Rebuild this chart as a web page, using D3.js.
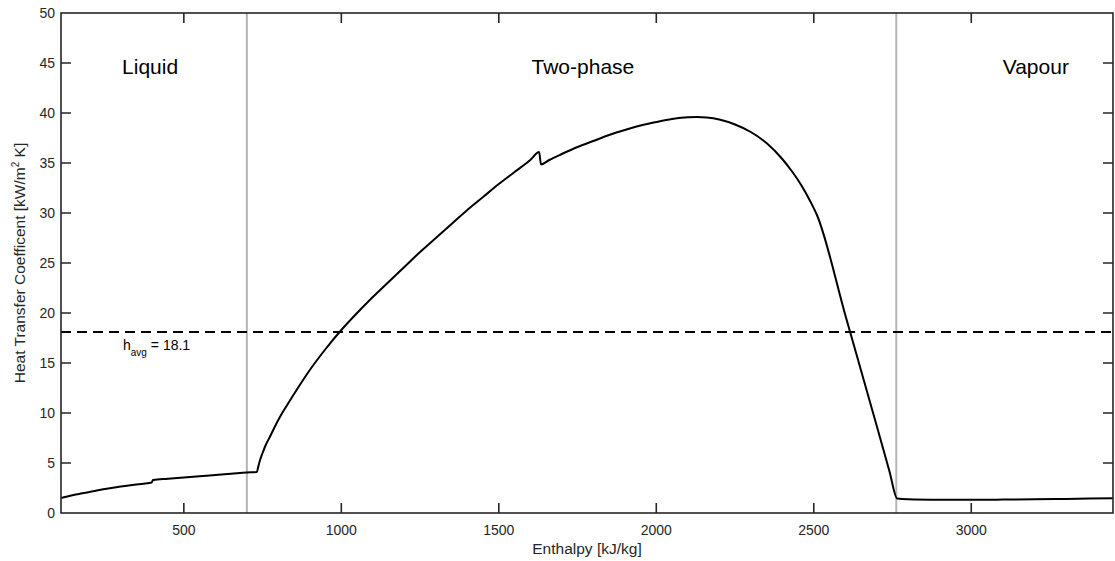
<!DOCTYPE html>
<html>
<head>
<meta charset="utf-8">
<script src="https://cdn.jsdelivr.net/npm/d3@7"></script>
<style>
  html, body { margin: 0; padding: 0; background: #fff; }
  svg { display: block; font-family: "Liberation Sans", Arial, Helvetica, sans-serif; }
</style>
</head>
<body>
<svg id="chart" width="1115" height="561"></svg>
<script>
// ---- data ----
const enthalpy = [110,150,200,250,300,350,398,402,450,500,550,600,650,700,732,736,742,750,760,773,790,805,830,860,900,950,1000,1050,1100,1150,1200,1250,1300,1350,1400,1450,1500,1550,1600,1628,1634,1660,1700,1750,1800,1850,1900,1950,2000,2050,2100,2130,2160,2200,2250,2300,2350,2400,2430,2460,2490,2510,2600,2700,2740,2765,2800,2900,3000,3100,3200,3300,3450];
const htc = [1.5,1.8,2.1,2.4,2.65,2.85,3.05,3.3,3.42,3.55,3.68,3.8,3.92,4.05,4.1,4.6,5.3,6.0,6.8,7.6,8.7,9.6,10.9,12.4,14.3,16.4,18.3,20.0,21.6,23.1,24.6,26.1,27.5,28.9,30.3,31.6,32.9,34.1,35.3,36.1,34.85,35.3,35.9,36.6,37.2,37.8,38.3,38.75,39.1,39.4,39.58,39.6,39.55,39.35,38.85,38.1,37.0,35.4,34.2,32.8,31.1,29.8,19.8,8.7,4.2,1.45,1.38,1.33,1.32,1.34,1.37,1.41,1.47];
const hAvg = 18.1;
const phaseBounds = [700, 2762];
const phaseNames = ["Liquid", "Two-phase", "Vapour"];
const phaseLabelX = [393, 1767, 3205];
const xTicks = [500, 1000, 1500, 2000, 2500, 3000];
const yTicks = [0, 5, 10, 15, 20, 25, 30, 35, 40, 45, 50];
const xDomain = [110, 3450];
const yDomain = [0, 50];

// ---- layout ----
const svg = d3.select("#chart");
const L = 61, R = 1113, T = 13, B = 513;
const x = d3.scaleLinear().domain(xDomain).range([L, R]);
const y = d3.scaleLinear().domain(yDomain).range([B, T]);
const axisColor = "#262626";
const tickLen = 10;
const fontFam = '"Liberation Sans", Arial, sans-serif';

// phase boundaries
svg.selectAll("line.phase").data(phaseBounds).enter().append("line")
  .attr("class", "phase")
  .attr("x1", d => x(d)).attr("x2", d => x(d))
  .attr("y1", T).attr("y2", B)
  .attr("stroke", "#b4b4b4").attr("stroke-width", 2);

// average line
svg.append("line")
  .attr("x1", L).attr("x2", R)
  .attr("y1", y(hAvg)).attr("y2", y(hAvg))
  .attr("stroke", "#000").attr("stroke-width", 2)
  .attr("stroke-dasharray", "10,6");

// curve
const line = d3.line().x((d, i) => x(enthalpy[i])).y((d, i) => y(htc[i])).curve(d3.curveMonotoneX);
svg.append("path").datum(htc)
  .attr("d", line)
  .attr("fill", "none").attr("stroke", "#000").attr("stroke-width", 2)
  .attr("stroke-linejoin", "round");

// frame
svg.append("rect").attr("x", L).attr("y", T).attr("width", R - L).attr("height", B - T)
  .attr("fill", "none").attr("stroke", axisColor).attr("stroke-width", 1.6);

// inward ticks on all four sides
const tickSegs = [];
xTicks.forEach(v => {
  tickSegs.push([x(v), B, x(v), B - tickLen]);
  tickSegs.push([x(v), T, x(v), T + tickLen]);
});
yTicks.filter(v => v > yDomain[0] && v < yDomain[1]).forEach(v => {
  tickSegs.push([L, y(v), L + tickLen, y(v)]);
  tickSegs.push([R, y(v), R - tickLen, y(v)]);
});
svg.append("path")
  .attr("d", tickSegs.map(s => `M${s[0]},${s[1]}L${s[2]},${s[3]}`).join(""))
  .attr("fill", "none").attr("stroke", axisColor).attr("stroke-width", 1.6);

// tick labels
svg.selectAll("text.xt").data(xTicks).enter().append("text")
  .attr("x", d => x(d)).attr("y", B + 22)
  .attr("text-anchor", "middle").style("font-size", "14px").style("font-family", fontFam)
  .attr("fill", axisColor).text(d => d3.format("d")(d));
svg.selectAll("text.yt").data(yTicks).enter().append("text")
  .attr("x", L - 6).attr("y", d => y(d)).attr("dy", "0.35em")
  .attr("text-anchor", "end").style("font-size", "14px").style("font-family", fontFam)
  .attr("fill", axisColor).text(d => d3.format("d")(d));

// phase labels
svg.selectAll("text.phaseLbl").data(phaseNames).enter().append("text")
  .attr("x", (d, i) => x(phaseLabelX[i]))
  .attr("y", 74)
  .attr("text-anchor", "middle")
  .style("font-size", "21px").style("font-family", fontFam).attr("fill", "#000")
  .text(d => d);

// h_avg label
const ht = svg.append("text").attr("x", 123).attr("y", 350)
  .style("font-size", "14px").style("font-family", fontFam).attr("fill", "#000");
ht.append("tspan").text("h");
ht.append("tspan").attr("dy", 6).style("font-size", "10px").text("avg");
ht.append("tspan").attr("dy", -6).text(" = " + hAvg.toFixed(1));

// axis titles
svg.append("text").attr("x", (L + R) / 2).attr("y", 554)
  .attr("text-anchor", "middle").style("font-size", "15.5px").style("font-family", fontFam)
  .attr("fill", axisColor).text("Enthalpy [kJ/kg]");
const yt = svg.append("text")
  .attr("transform", `translate(25,${(T + B) / 2}) rotate(-90)`)
  .attr("text-anchor", "middle").style("font-size", "15.5px").style("font-family", fontFam)
  .attr("fill", axisColor);
yt.append("tspan").text("Heat Transfer Coefficent [kW/m");
yt.append("tspan").attr("dy", -6).style("font-size", "10px").text("2");
yt.append("tspan").attr("dy", 6).text(" K]");
</script>
</body>
</html>
